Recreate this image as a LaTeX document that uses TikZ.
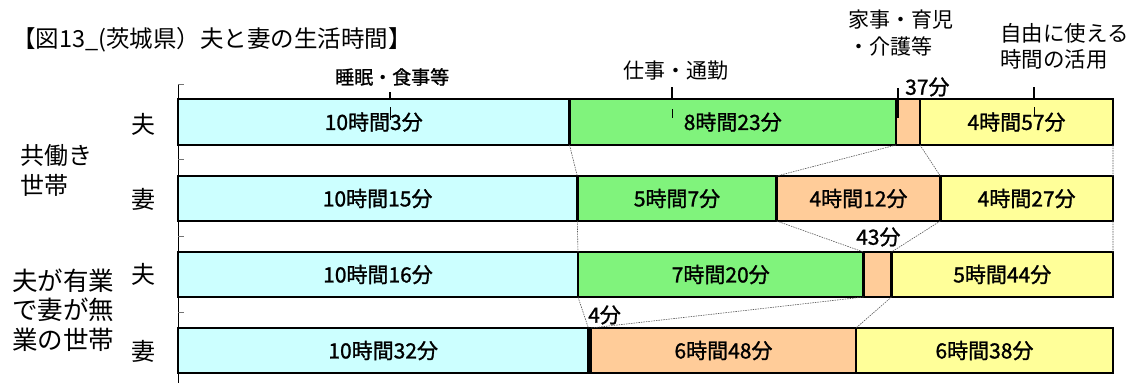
\documentclass[tikz,border=0pt]{standalone}
\usepackage{fontspec}
\setmainfont{Noto Sans CJK JP}
\newfontfamily\jpg[FakeBold=1.2]{Noto Sans CJK JP}
\definecolor{cyanfill}{RGB}{204,255,255}
\definecolor{greenfill}{RGB}{128,243,124}
\definecolor{orangefill}{RGB}{255,204,153}
\definecolor{yellowfill}{RGB}{255,255,153}
\tikzset{
  segbox/.style={draw=black, line width=2.6pt, inner sep=0pt, outer sep=0pt,
    font=\jpg\fontsize{21}{24}\selectfont},
  conn/.style={draw=black!65, line width=0.6pt, dash pattern=on 1.5pt off 1pt},
  leader/.style={draw=black, line width=1.8pt},
  axisline/.style={draw=black, line width=1pt},
  axistick/.style={draw=black!55, line width=1pt},
  cat/.style={inner sep=0pt, anchor=west, align=left, font=\fontsize{21}{26}\selectfont},
  gcat/.style={inner sep=0pt, anchor=west, font=\jpg\fontsize{20}{24}\selectfont},
  rowlab/.style={inner sep=0pt, font=\fontsize{24}{28}\selectfont},
  grouplab/.style={inner sep=0pt, anchor=west, align=left, font=\fontsize{24}{30}\selectfont},
  titlelab/.style={inner sep=0pt, anchor=west, font=\fontsize{23.5}{26}\selectfont}
}
\newcommand\mkseg[7]{%
  \node[segbox, fill=#6, minimum width={(#3-#2)*1pt}, minimum height={(#5-#4)*1pt}]
    (#1) at ({(#2+#3)/2},{(#4+#5)/2}) {#7};}
\begin{document}
\begin{tikzpicture}[x=1pt,y=-1pt]
\useasboundingbox (0,0) rectangle (1133,383);
\fill[white] (0,0) rectangle (1133,383);

% axis
\coordinate (axtop) at (178,84);
\coordinate (axbot) at (178,383);
\draw[axisline] (axtop) -- (axbot);
\foreach \ty/\tn in {84/ta,159/tb,236/tc,312/td}{
  \coordinate (\tn0) at (178,\ty);
  \coordinate (\tn1) at (184,\ty);
  \draw[axistick] (\tn0) -- (\tn1);
}

% row 1
\mkseg{r1a}{178}{569.5}{99}{145}{cyanfill}{10時間3分}
\mkseg{r1b}{569.5}{896}{99}{145}{greenfill}{8時間23分}
\mkseg{r1c}{896}{920}{99}{145}{orangefill}{}
\mkseg{r1d}{920}{1113}{99}{145}{yellowfill}{4時間57分}
% row 2
\mkseg{r2a}{178}{577.3}{176}{221}{cyanfill}{10時間15分}
\mkseg{r2b}{577.3}{776.7}{176}{221}{greenfill}{5時間7分}
\mkseg{r2c}{776.7}{940.3}{176}{221}{orangefill}{4時間12分}
\mkseg{r2d}{940.3}{1113}{176}{221}{yellowfill}{4時間27分}
% row 3
\mkseg{r3a}{178}{578}{252}{297}{cyanfill}{10時間16分}
\mkseg{r3b}{578}{863.5}{252}{297}{greenfill}{7時間20分}
\mkseg{r3c}{863.5}{891.5}{252}{297}{orangefill}{}
\mkseg{r3d}{891.5}{1113}{252}{297}{yellowfill}{5時間44分}
% row 4
\mkseg{r4a}{178}{588.4}{328}{373}{cyanfill}{10時間32分}
\mkseg{r4b}{588.4}{591}{328}{373}{greenfill}{}
\mkseg{r4c}{591}{856}{328}{373}{orangefill}{6時間48分}
\mkseg{r4d}{856}{1113}{328}{373}{yellowfill}{6時間38分}

% connectors between rows
\draw[conn] (r1a.south east) -- (r2a.north east);
\draw[conn] (r1b.south east) -- (r2b.north east);
\draw[conn] (r1c.south east) -- (r2c.north east);
\draw[conn] (r1d.south east) -- (r2d.north east);
\draw[conn] (r2a.south east) -- (r3a.north east);
\draw[conn] (r2b.south east) -- (r3b.north east);
\draw[conn] (r2c.south east) -- (r3c.north east);
\draw[conn] (r2d.south east) -- (r3d.north east);
\draw[conn] (r3a.south east) -- (r4a.north east);
\draw[conn] (r3b.south east) -- (r4b.north east);
\draw[conn] (r3c.south east) -- (r4c.north east);

% title
\node[titlelab] (title) at (12,40) {【図13\_(茨城県）夫と妻の生活時間】};

% row labels
\node[rowlab] (l1) at (143,124) {夫};
\node[rowlab] (l2) at (143,199) {妻};
\node[rowlab] (l3) at (143,274) {夫};
\node[rowlab] (l4) at (143,351) {妻};

% group labels
\node[grouplab] (g1) at (20,170) {共働き\\世帯};
\node[grouplab, font=\fontsize{25.5}{29.5}\selectfont] (g2) at (12,310) {夫が有業\\で妻が無\\業の世帯};

% category labels
\node[gcat, font=\jpg\fontsize{19}{24}\selectfont] (c1) at (335,77) {睡眠・食事等};
\node[cat] (c2) at (623,71) {仕事・通勤};
\node[cat, font=\fontsize{21}{27}\selectfont] (c3) at (848,33.5) {家事・育児\\・介護等};
\node[cat, font=\fontsize{21.5}{26}\selectfont] (c4) at (1000,46) {自由に使える\\時間の活用};

% small value labels
\node[gcat, font=\jpg\fontsize{21}{24}\selectfont] (v37) at (905,87) {37分};
\node[gcat, font=\jpg\fontsize{21}{24}\selectfont] (v43) at (856,237) {43分};
\node[gcat, font=\jpg\fontsize{21}{24}\selectfont] (v4) at (588,315) {4分};

% leader ticks
\coordinate (k1a) at (390,92);  \coordinate (k1b) at (390,100);
\coordinate (k1c) at (390,107); \coordinate (k1d) at (390,120);
\draw[leader] (k1a) -- (k1b);
\draw[leader, line width=1pt] (k1c) -- (k1d);
\coordinate (k2a) at (672,87);  \coordinate (k2b) at (672,100);
\coordinate (k2c) at (672,109); \coordinate (k2d) at (672,118);
\draw[leader] (k2a) -- (k2b);
\draw[leader, line width=1pt] (k2c) -- (k2d);
\coordinate (k3a) at (898,88);  \coordinate (k3b) at (898,118);
\draw[leader] (k3a) -- (k3b);
\coordinate (k4a) at (1034,87);  \coordinate (k4b) at (1034,100);
\coordinate (k4c) at (1034,107); \coordinate (k4d) at (1034,116);
\draw[leader] (k4a) -- (k4b);
\draw[leader, line width=1pt] (k4c) -- (k4d);
\end{tikzpicture}
\end{document}
